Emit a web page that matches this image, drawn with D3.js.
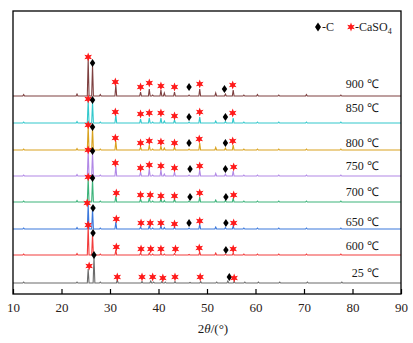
<!DOCTYPE html>
<html>
<head>
<meta charset="utf-8">
<script src="https://cdn.jsdelivr.net/npm/d3@7"></script>
<style>
  body { margin: 0; background: #fff; }
  svg text { font-family: "Liberation Serif", "Times New Roman", serif; }
</style>
</head>
<body>
<svg id="chart" width="413" height="343"></svg>
<script>
// XRD patterns, stacked from 25 C (bottom) to 900 C (top)
const sampleLabels = ["25 ℃", "600 ℃", "650 ℃", "700 ℃", "750 ℃", "800 ℃", "850 ℃", "900 ℃"];
const sampleOffsets = [11, 39, 65, 92, 118, 144, 171, 198];

// peak positions (2theta) shared by the heated samples, and for the raw sample
const peakPos = [12.2, 23.2, 25.5, 26.4, 28.0, 31.2, 36.3, 38.1, 38.8, 40.5, 41.2, 43.3, 46.3, 48.5, 51.8, 53.8, 55.4, 57.6, 60.4, 64.8, 70.5, 77.6];
const peakPos25 = [12.2, 23.2, 25.5, 26.7, 28.0, 31.5, 36.6, 38.4, 39.0, 40.7, 41.4, 43.4, 46.5, 48.7, 52.0, 54.3, 55.6, 57.8, 60.6, 65.0, 70.7, 77.8];

// peak intensities (a.u.) for each sample
const int25  = [1, 1, 14, 26, 1, 3, 1.5, 2, 1, 1.5, 1, 1.5, 0.5, 1.5, 1, 2, 1.5, 1, 1, 1, 1, 1];
const int600 = [1, 1.5, 29, 21, 1, 5, 2, 2, 1, 2, 1, 1.5, 0.5, 3, 2, 1, 2, 1, 1, 1, 1, 1];
const int650 = [1, 1.5, 25, 20, 1, 7, 2, 3, 1, 3, 1.5, 2, 1, 5, 2, 1.5, 3, 1, 1, 1, 1, 1];
const int700 = [1, 1.5, 24, 23, 1, 6, 3, 4, 1, 3, 1.5, 3, 1, 5, 2, 1.5, 4, 1, 1, 1, 1, 1];
const int750 = [1, 1.5, 25, 24, 1, 10, 4, 7, 1, 6, 2, 4, 1, 6, 2.5, 2, 5, 1, 1, 1, 1, 1];
const int800 = [1, 1.5, 24, 22, 1, 9, 3, 5, 1, 4, 2, 3, 1, 7, 2.5, 2, 5, 1, 1, 1, 1, 1];
const int850 = [1, 1.5, 23, 21, 1, 8, 4, 5, 1, 5, 2, 3, 1, 6, 2, 1.5, 5, 1, 1, 1, 1, 1];
const int900 = [1.5, 2, 37, 31, 1.5, 11, 4, 7, 1, 6, 3, 4, 1, 7, 3, 2, 6, 1, 1.5, 1, 1.5, 1];

// phase markers: [2theta, level above pattern, phase] (S = CaSO4, D = C)
const mark25  = [[25.7,17,"S"],[26.7,28,"D"],[31.5,6,"S"],[36.6,6,"S"],[38.8,6,"S"],[40.9,5,"S"],[43.4,6,"S"],[48.6,6,"S"],[54.6,6,"D"],[55.6,5,"S"]];
const mark600 = [[25.5,30,"S"],[26.5,22,"D"],[31.3,8,"S"],[36.4,6,"S"],[38.4,6,"S"],[40.5,6,"S"],[43.5,6,"S"],[48.4,7,"S"],[53.9,5,"D"],[55.4,6,"S"]];
const mark650 = [[25.3,26,"S"],[26.5,21,"D"],[31.3,10,"S"],[36.4,6,"S"],[38.3,6,"S"],[40.5,6,"S"],[43.3,5,"S"],[46.3,6,"D"],[48.5,8,"S"],[53.9,6,"D"],[55.5,6,"S"]];
const mark700 = [[25.5,25,"S"],[26.4,24,"D"],[31.3,9,"S"],[36.3,7,"S"],[38.3,7,"S"],[40.5,6,"S"],[43.3,6,"S"],[46.5,5,"D"],[48.5,9,"S"],[53.9,5,"D"],[55.5,7,"S"]];
const mark750 = [[25.5,26,"S"],[26.4,25,"D"],[31.1,13,"S"],[36.3,8,"S"],[38.1,11,"S"],[40.5,10,"S"],[43.3,8,"S"],[46.5,7,"D"],[48.5,10,"S"],[53.8,7,"D"],[55.5,9,"S"]];
const mark800 = [[25.5,25,"S"],[26.4,23,"D"],[31.1,12,"S"],[36.3,7,"S"],[38.1,9,"S"],[40.5,8,"S"],[43.3,7,"S"],[46.3,7,"D"],[48.4,11,"S"],[53.8,7,"D"],[55.3,9,"S"]];
const mark850 = [[25.5,24,"S"],[26.4,23,"D"],[31.1,11,"S"],[36.3,9,"S"],[38.1,10,"S"],[40.5,10,"S"],[43.3,7,"S"],[46.3,6,"D"],[48.5,11,"S"],[53.8,6,"D"],[55.3,10,"S"]];
const mark900 = [[25.5,39,"S"],[26.4,33,"D"],[31.1,14,"S"],[36.3,9,"S"],[38.1,13,"S"],[40.5,10,"S"],[43.3,9,"S"],[46.3,9,"D"],[48.5,12,"S"],[53.6,7,"D"],[55.3,11,"S"]];

const xTicks = [10, 20, 30, 40, 50, 60, 70, 80, 90];

const intensities = [int25, int600, int650, int700, int750, int800, int850, int900];
const markers = [mark25, mark600, mark650, mark700, mark750, mark800, mark850, mark900];
const colors = ["#6b6b6b", "#f23c3c", "#3b78dc", "#3cb37a", "#b188e6", "#d9a21e", "#33c8cc", "#7e4040"];
const labelLift = [6, 5, 3, 6, 6, 3, 11, 8];

const svg = d3.select("#chart");
const margin = {top: 11, right: 12, bottom: 49, left: 13};
const width = 413 - margin.left - margin.right;
const height = 343 - margin.top - margin.bottom;

const g = svg.append("g")
    .attr("transform", "translate(" + margin.left + "," + margin.top + ")");

const x = d3.scaleLinear().domain([10, 90]).range([0, width]);
const y = d3.scaleLinear().domain([0, 283]).range([height, 0]);

// build a trace: flat baseline with narrow peaks
function trace(pos, vals, off) {
    const pts = [[10, off]];
    pos.map((p, i) => [p, vals[i]])
        .sort((a, b) => a[0] - b[0])
        .forEach(([p, h]) => {
            pts.push([p - 0.18, off], [p, off + h], [p + 0.18, off]);
        });
    pts.push([90, off]);
    return pts;
}

const line = d3.line()
    .x(d => x(d[0]))
    .y(d => y(d[1]));

// draw the patterns
for (let i = sampleLabels.length - 1; i >= 0; i--) {
    const pos = i === 0 ? peakPos25 : peakPos;
    g.append("path")
        .datum(trace(pos, intensities[i], sampleOffsets[i]))
        .attr("fill", "none")
        .attr("stroke", colors[i])
        .attr("stroke-width", 1.1)
        .attr("d", line);

    g.append("text")
        .attr("x", x(85.4))
        .attr("y", y(sampleOffsets[i]) - labelLift[i])
        .attr("text-anchor", "end")
        .style("font-size", "12px")
        .attr("fill", "#1a1a1a")
        .text(sampleLabels[i]);
}

// marker shapes
function starPath(R, r) {
    const p = d3.path();
    for (let k = 0; k < 12; k++) {
        const a = k * Math.PI / 6 - Math.PI / 2;
        const rr = k % 2 === 0 ? R : r;
        if (k === 0) p.moveTo(rr * Math.cos(a), rr * Math.sin(a));
        else p.lineTo(rr * Math.cos(a), rr * Math.sin(a));
    }
    p.closePath();
    return p.toString();
}
const star = starPath(4.4, 2.1);
const diamond = "M0,-3.9L2.7,0L0,3.9L-2.7,0Z";

markers.forEach((list, i) => {
    g.selectAll(null)
        .data(list)
        .enter()
        .append("path")
        .attr("transform", d => "translate(" + x(d[0]) + "," + y(sampleOffsets[i] + d[1]) + ")")
        .attr("d", d => d[2] === "S" ? star : diamond)
        .attr("fill", d => d[2] === "S" ? "#ff1a1a" : "#000");
});

// bottom axis, ticks pointing inside
const xAxis = d3.axisBottom(x)
    .tickValues(xTicks)
    .tickFormat(d3.format("d"))
    .tickSizeInner(-5)
    .tickSizeOuter(0)
    .tickPadding(9);

const ax = g.append("g")
    .attr("transform", "translate(0," + height + ")")
    .call(xAxis);
ax.select(".domain").remove();
ax.selectAll(".tick line").attr("stroke", "#000").attr("stroke-width", 1.2);
ax.selectAll(".tick text")
    .style("font-size", "13px")
    .style("font-family", "'Liberation Serif', serif")
    .attr("fill", "#2b2118");

// frame
g.append("rect")
    .attr("width", width)
    .attr("height", height)
    .attr("fill", "none")
    .attr("stroke", "#000")
    .attr("stroke-width", 1.3);

// axis title
const title = g.append("text")
    .attr("x", width / 2 + 6)
    .attr("y", height + 39)
    .attr("text-anchor", "middle")
    .style("font-size", "13px")
    .attr("fill", "#1a1a1a");
title.append("tspan").text("2");
title.append("tspan").style("font-style", "italic").text("θ");
title.append("tspan").text("/(°)");

// legend
const leg = g.append("g").attr("transform", "translate(305,16)");
leg.append("path").attr("d", "M0,-4.5L3,0L0,4.5L-3,0Z").attr("fill", "#000");
leg.append("text").attr("x", 4).attr("y", 4).style("font-size", "12px").attr("fill", "#1a1a1a").text("-C");
leg.append("path").attr("transform", "translate(33,0)").attr("d", star).attr("fill", "#ff1a1a");
const legText = leg.append("text").attr("x", 37).attr("y", 4).style("font-size", "12px").attr("fill", "#1a1a1a");
legText.append("tspan").text("-CaSO");
legText.append("tspan").attr("dy", 3).style("font-size", "8px").text("4");
</script>
</body>
</html>
